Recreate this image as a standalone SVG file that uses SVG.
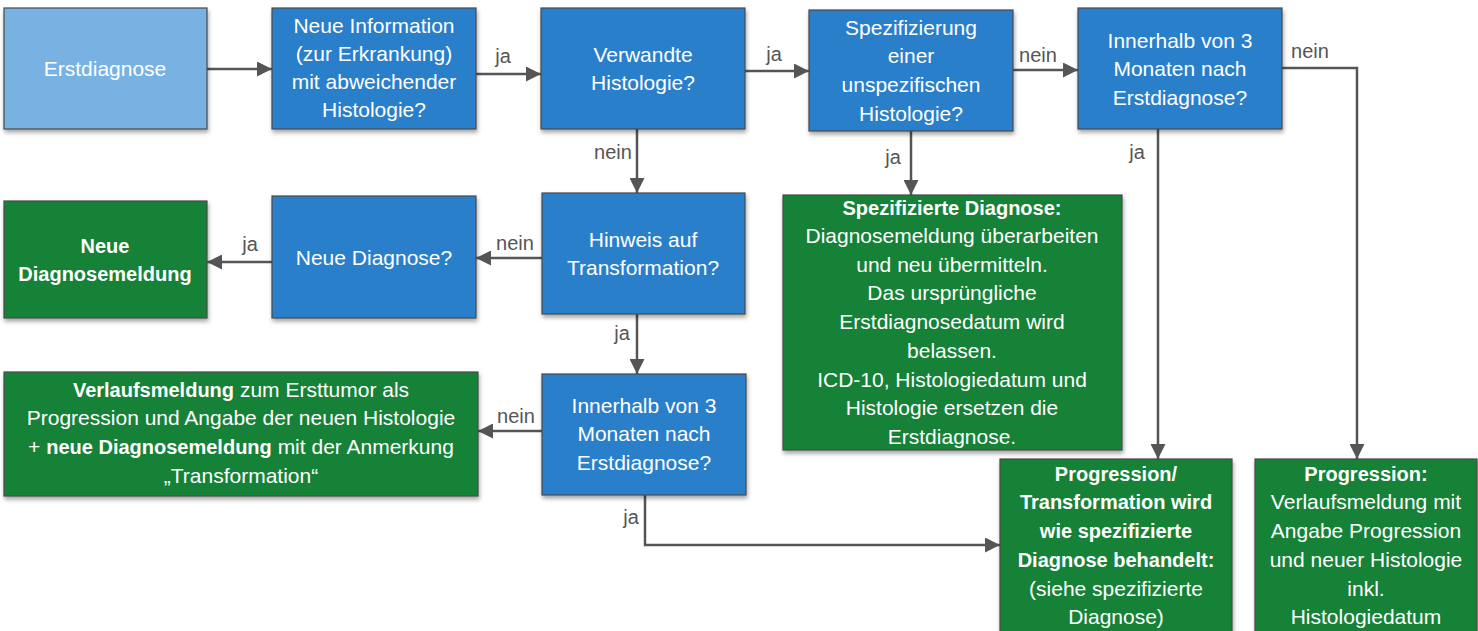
<svg xmlns="http://www.w3.org/2000/svg" width="1478" height="631" viewBox="0 0 1478 631">
<defs>
<filter id="sh" x="-10%" y="-10%" width="120%" height="130%">
<feDropShadow dx="1" dy="3" stdDeviation="2" flood-color="#000" flood-opacity="0.35"/>
</filter>
<marker id="a" viewBox="0 0 15 15" refX="15" refY="7.5" markerWidth="15" markerHeight="15" orient="auto" markerUnits="userSpaceOnUse">
<path d="M0,0 L15,7.5 L0,15 z" fill="#555"/>
</marker>
</defs>
<style>
.b rect{fill:#2A7FCB;stroke:#4a4a4a;stroke-width:1.2;filter:url(#sh)}
.g rect{fill:#148239;stroke:#4a4a4a;stroke-width:1.2;filter:url(#sh)}
.l rect{fill:#78B2E2;stroke:#4a4a4a;stroke-width:1.2;filter:url(#sh)}
text{font-family:"Liberation Sans",Arial,sans-serif;font-size:21px;fill:#fff;text-anchor:middle}
.bd{font-weight:bold;font-size:20px}
.lab{fill:#555;font-size:20px}
#conn path{fill:none;stroke:#555;stroke-width:2.5;marker-end:url(#a)}
</style>
<rect width="1478" height="631" fill="#fff"/>

<g id="conn">
<path d="M207,69 H272"/>
<path d="M476,74 H541"/>
<path d="M745,71 H809"/>
<path d="M1013,70 H1078"/>
<path d="M1282,68 H1357 V459"/>
<path d="M1158,129 V459"/>
<path d="M637,129 V193"/>
<path d="M911,131 V195"/>
<path d="M542,258 H476"/>
<path d="M272,262 H207"/>
<path d="M637,314 V374"/>
<path d="M542,431 H478"/>
<path d="M645,495 V545 H1000"/>
<text class="lab" x="503" y="63">ja</text>
<text class="lab" x="774" y="61">ja</text>
<text class="lab" x="1038" y="62">nein</text>
<text class="lab" x="1310" y="58">nein</text>
<text class="lab" x="1137" y="159">ja</text>
<text class="lab" x="613" y="159">nein</text>
<text class="lab" x="893" y="164">ja</text>
<text class="lab" x="515" y="250">nein</text>
<text class="lab" x="250" y="251">ja</text>
<text class="lab" x="622" y="340">ja</text>
<text class="lab" x="516" y="423">nein</text>
<text class="lab" x="631" y="524">ja</text>
</g>

<g id="erstdiagnose" class="l"><rect x="4" y="8" width="203" height="121"/>
<text x="105" y="76">Erstdiagnose</text></g>

<g id="neue-information" class="b"><rect x="272" y="8" width="204" height="121"/>
<text x="374" y="33">Neue Information</text>
<text x="374" y="61">(zur Erkrankung)</text>
<text x="374" y="89">mit abweichender</text>
<text x="374" y="117">Histologie?</text></g>

<g id="verwandte" class="b"><rect x="541" y="8" width="204" height="121"/>
<text x="643" y="62">Verwandte</text>
<text x="643" y="90">Histologie?</text></g>

<g id="spezifizierung" class="b"><rect x="809" y="10" width="204" height="121"/>
<text x="911" y="35">Spezifizierung</text>
<text x="911" y="63">einer</text>
<text x="911" y="92">unspezifischen</text>
<text x="911" y="121">Histologie?</text></g>

<g id="innerhalb-1" class="b"><rect x="1078" y="8" width="204" height="121"/>
<text x="1180" y="48">Innerhalb von 3</text>
<text x="1180" y="76">Monaten nach</text>
<text x="1180" y="105">Erstdiagnose?</text></g>

<g id="neue-diagnosemeldung" class="g"><rect x="4" y="201" width="203" height="117"/>
<text class="bd" x="105" y="253">Neue</text>
<text class="bd" x="105" y="281">Diagnosemeldung</text></g>

<g id="neue-diagnose" class="b"><rect x="272" y="196" width="204" height="122"/>
<text x="374" y="265">Neue Diagnose?</text></g>

<g id="hinweis" class="b"><rect x="542" y="193" width="203" height="121"/>
<text x="643" y="247">Hinweis auf</text>
<text x="643" y="275">Transformation?</text></g>

<g id="spezifizierte-diagnose" class="g"><rect x="783" y="195" width="339" height="255"/>
<text class="bd" x="952" y="215">Spezifizierte Diagnose:</text>
<text x="952" y="243">Diagnosemeldung überarbeiten</text>
<text x="952" y="272">und neu übermitteln.</text>
<text x="952" y="300">Das ursprüngliche</text>
<text x="952" y="329">Erstdiagnosedatum wird</text>
<text x="952" y="358">belassen.</text>
<text x="952" y="387">ICD-10, Histologiedatum und</text>
<text x="952" y="415">Histologie ersetzen die</text>
<text x="952" y="444">Erstdiagnose.</text></g>

<g id="verlaufsmeldung" class="g"><rect x="4" y="372" width="474" height="124"/>
<text x="241" y="397"><tspan class="bd">Verlaufsmeldung</tspan> zum Ersttumor als</text>
<text x="241" y="425">Progression und Angabe der neuen Histologie</text>
<text x="241" y="454">+ <tspan class="bd">neue Diagnosemeldung</tspan> mit der Anmerkung</text>
<text x="241" y="483">„Transformation“</text></g>

<g id="innerhalb-2" class="b"><rect x="542" y="374" width="204" height="121"/>
<text x="644" y="413">Innerhalb von 3</text>
<text x="644" y="441">Monaten nach</text>
<text x="644" y="470">Erstdiagnose?</text></g>

<g id="progression-transformation" class="g"><rect x="1000" y="459" width="232" height="180"/>
<text class="bd" x="1116" y="481">Progression/</text>
<text class="bd" x="1116" y="509">Transformation wird</text>
<text class="bd" x="1116" y="538">wie spezifizierte</text>
<text class="bd" x="1116" y="567">Diagnose behandelt:</text>
<text x="1116" y="596">(siehe spezifizierte</text>
<text x="1116" y="624">Diagnose)</text></g>

<g id="progression" class="g"><rect x="1255" y="459" width="222" height="180"/>
<text class="bd" x="1366" y="481">Progression:</text>
<text x="1366" y="509">Verlaufsmeldung mit</text>
<text x="1366" y="538">Angabe Progression</text>
<text x="1366" y="567">und neuer Histologie</text>
<text x="1366" y="596">inkl.</text>
<text x="1366" y="624">Histologiedatum</text></g>
</svg>
